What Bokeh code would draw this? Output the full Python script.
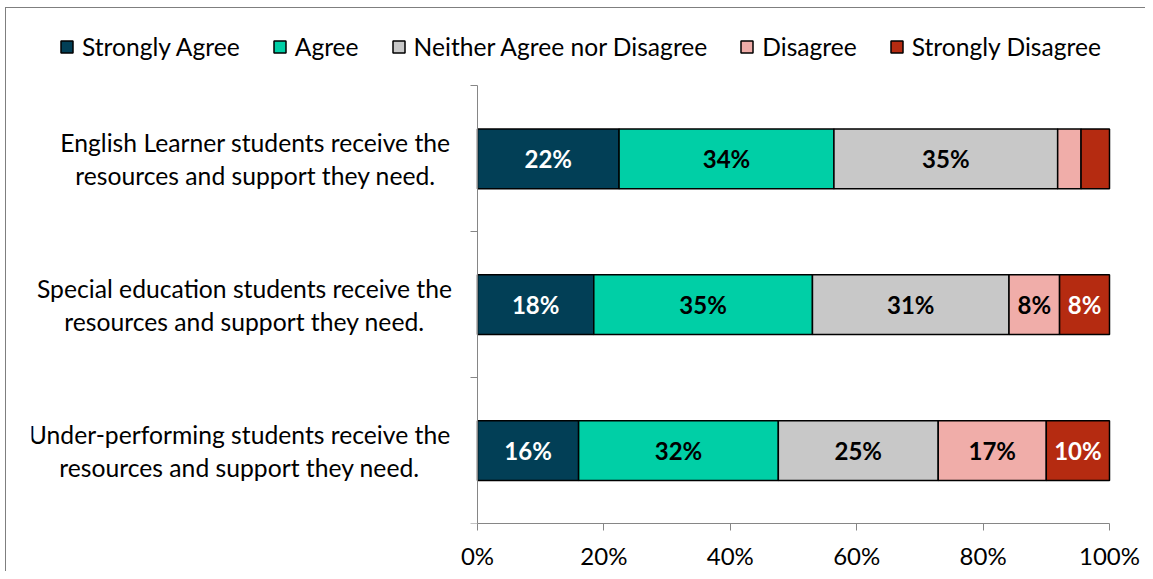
from bokeh.plotting import figure
from bokeh.models import (Range1d, FixedTicker, Legend, LegendItem, ColumnDataSource,
                          NumeralTickFormatter)
from bokeh.core.properties import value
from bokeh.embed import file_html
from bokeh.resources import INLINE

categories = [
    "English Learner students receive the\nresources and support they need.",
    "Special education students receive the\nresources and support they need.",
    "Under-performing students receive the\nresources and support they need.",
]
series = ["Strongly Agree", "Agree", "Neither Agree nor Disagree", "Disagree", "Strongly Disagree"]
strongly_agree = [22.4, 18.4, 16.0]
agree = [34.0, 34.6, 31.6]
neither = [35.4, 31.1, 25.3]
disagree = [3.7, 8.0, 17.1]
strongly_disagree = [4.5, 7.9, 10.0]
x_ticks = [0, 0.2, 0.4, 0.6, 0.8, 1.0]

colors = ["#023F56", "#00CFA6", "#C8C8C8", "#F0ADA9", "#B52B11"]
label_colors = ["white", "black", "black", "black", "white"]
FONT = "Lato"

# ---- layout (pixels, picture coordinates) ----
OX, OY = 5, 7                            # where the chart's border sits
W, H = 1145 - OX, 571 - OY
FL, FR, FT, FB = 30, 1140, 12, 526       # frame edges (picture px)
X0, X1 = 476, 1108                       # pixel positions of 0% and 100%
Y0, YSTEP = 85, 147                      # top category boundary and band height
LABEL_CX = [254, 243, 238]               # centre of each category label block

n = len(categories)
xs = -(X0 - FL) / (X1 - X0)
xe = 1 + (FR - X1) / (X1 - X0)
yt = -(Y0 - FT) / YSTEP
yb = n + (FB - (Y0 + n * YSTEP)) / YSTEP

def px_to_x(px):
    return (px - X0) / (X1 - X0)

values = [strongly_agree, agree, neither, disagree, strongly_disagree]
ypos = [i + 0.5 for i in range(n)]

data = {"y": ypos}
for name, vals in zip(series, values):
    data[name] = [v / 100 for v in vals]
src = ColumnDataSource(data)

p = figure(width=W, height=H, output_backend="svg", toolbar_location=None,
           x_range=Range1d(xs, xe), y_range=Range1d(yb, yt),
           min_border_left=FL - OX, min_border_right=W + OX - FR, min_border_top=FT - OY,
           min_border_bottom=H + OY - FB)
p.styles = {"border-left": "1px solid #7f7f7f", "border-top": "1px solid #7f7f7f",
            "margin-left": f"{OX}px", "margin-top": f"{OY}px"}
p.outline_line_color = None
p.xgrid.visible = False
p.ygrid.visible = False

rs = p.hbar_stack(series, y="y", height=0.41, source=src, fill_color=colors,
                  line_color="black", line_width=1.5)

# value labels
lx, ly, lt, lc = [], [], [], []
for i in range(n):
    left = 0.0
    for j, vals in enumerate(values):
        v = vals[i] / 100
        if vals[i] >= 5:
            lx.append(left + v / 2)
            ly.append(ypos[i])
            lt.append(f"{round(vals[i])}%")
            lc.append(label_colors[j])
        left += v
p.text(x=lx, y=ly, text=lt, text_color=lc, text_align="center", text_baseline="middle",
       text_font=value(FONT), text_font_style="bold", text_font_size="24px")

# category labels
p.text(x=[px_to_x(c) for c in LABEL_CX], y=ypos, text=categories, text_color="black",
       text_align="center", text_baseline="middle", text_font=value(FONT),
       text_font_size="24.7px", text_line_height=1.14)

# x axis
xa = p.xaxis[0]
xa.bounds = (0, 1)
xa.ticker = FixedTicker(ticks=x_ticks)
xa.formatter = NumeralTickFormatter(format="0%")
xa.axis_line_color = "#868686"
xa.major_tick_line_color = "#868686"
xa.major_tick_out = 7
xa.major_tick_in = 0
xa.minor_tick_line_color = None
xa.major_label_text_font = FONT
xa.major_label_text_font_size = "24px"
xa.major_label_text_color = "black"
xa.major_label_standoff = 10

# y axis (at x = 0, ticks between categories)
ya = p.yaxis[0]
ya.fixed_location = 0
ya.bounds = (0, n)
ya.ticker = FixedTicker(ticks=[], minor_ticks=list(range(n + 1)))
ya.axis_line_color = "#868686"
ya.major_tick_line_color = None
ya.minor_tick_line_color = "#868686"
ya.minor_tick_out = 7
ya.minor_tick_in = 0
ya.major_label_text_font_size = "0px"

legend = Legend(items=[LegendItem(label=s, renderers=[r]) for s, r in zip(series, rs)],
                orientation="horizontal", location=(58 - FL, FB - 64),
                label_text_font=FONT, label_text_font_size="24.6px", label_text_color="black",
                glyph_width=15, glyph_height=15, label_standoff=8, spacing=32,
                padding=0, margin=0, border_line_color=None, background_fill_alpha=0)
p.add_layout(legend, "center")

open("out.html", "w").write(file_html(p, INLINE))
